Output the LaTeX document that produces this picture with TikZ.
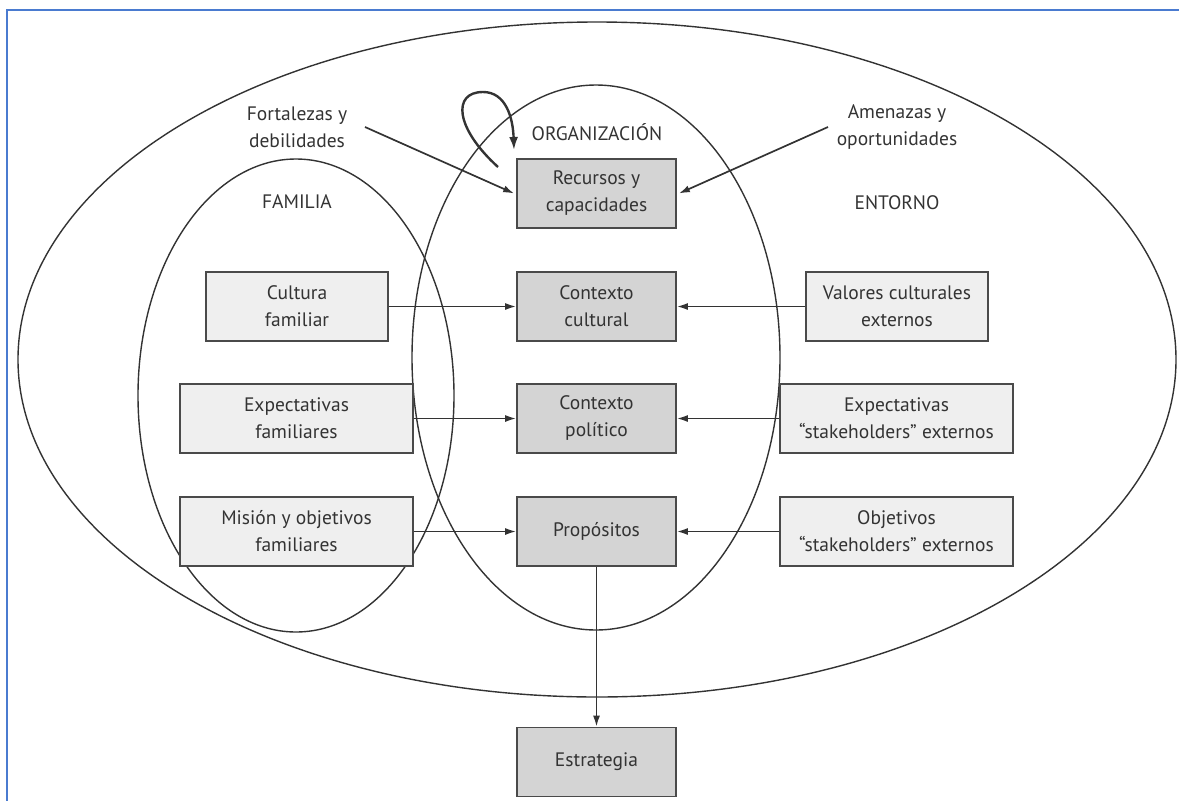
\documentclass[tikz,border=0pt]{standalone}
\usepackage{fontspec}
\setmainfont{PT Sans}
\usetikzlibrary{arrows.meta}
\definecolor{ink}{HTML}{333333}
\definecolor{edge}{HTML}{4A4A4A}
\definecolor{darkfill}{HTML}{D4D4D4}
\definecolor{lightfill}{HTML}{EFEFEF}
\definecolor{frameblue}{HTML}{4A7BD0}
\begin{document}
\begin{tikzpicture}[x=1pt,y=-1pt,
  every node/.style={font=\fontsize{19.5}{27}\selectfont, text=ink, align=center, inner sep=0pt},
  corebox/.style={draw=edge, line width=1.7pt, fill=darkfill, minimum width=159pt, minimum height=69pt},
  sidebox/.style={draw=edge, line width=1.7pt, fill=lightfill, minimum height=69pt},
  zone/.style={draw=ink, line width=1.4pt},
  flow/.style={draw=ink, line width=1.7pt, -{Latex[length=11pt,width=7pt]}},
  caption/.style={}
]
\useasboundingbox (0,0) rectangle (1179,801);
% page frame
\draw[frameblue, line width=2pt] (7,801) -- (7,10) -- (1179,10);

% nested areas
\draw[zone] (597,359.5) ellipse [x radius=579, y radius=337.5];
\draw[zone] (596,357.5) ellipse [x radius=184, y radius=272.5];
\draw[zone] (296,395.5) ellipse [x radius=158, y radius=236.5];

% area titles
\node[caption] (org) at (597,132) {ORGANIZACIÓN};
\node[caption] (fam) at (297,202) {FAMILIA};
\node[caption] (ent) at (897,203) {ENTORNO};
\node[caption] (fort) at (297,127) {Fortalezas y\\debilidades};
\node[caption] (amen) at (897,127) {Amenazas y\\oportunidades};

% central column
\node[corebox] (rec) at (596.5,193.5) {Recursos y\\capacidades};
\node[corebox] (cul) at (596.5,306.5) {Contexto\\cultural};
\node[corebox] (pol) at (596.5,418.5) {Contexto\\político};
\node[corebox] (pro) at (596.5,531.5) {Propósitos};
\node[corebox] (est) at (596.5,762) {Estrategia};

% family column
\node[sidebox, minimum width=182pt] (cf) at (297,306.5) {Cultura\\familiar};
\node[sidebox, minimum width=233pt] (ef) at (296.5,418.5) {Expectativas\\familiares};
\node[sidebox, minimum width=233pt] (mf) at (296.5,531.5) {Misión y objetivos\\familiares};

% environment column
\node[sidebox, minimum width=182pt] (vc) at (897,306.5) {Valores culturales\\externos};
\node[sidebox, minimum width=233pt] (es) at (896.5,418.5) {Expectativas\\“stakeholders” externos};
\node[sidebox, minimum width=233pt] (os) at (896.5,531.5) {Objetivos\\“stakeholders” externos};

% connectors
\draw[flow] (cf) -- (cul);
\draw[flow] (ef) -- (pol);
\draw[flow] (mf) -- (pro);
\draw[flow] (vc) -- (cul);
\draw[flow] (es) -- (pol);
\draw[flow] (os) -- (pro);
\draw[flow] (pro) -- (est);

\coordinate (fortend) at (365,127);
\coordinate (amenend) at (828,127);
\draw[flow] (fortend) -- ([xshift=-2pt]rec.west);
\draw[flow] (amenend) -- ([xshift=2pt]rec.east);

% self-reinforcing loop
\coordinate (loopstart) at (498,167);
\coordinate (looptip) at (514,150);
\draw[flow, line width=2.4pt, -{Latex[length=13pt,width=9pt]}] (loopstart) .. controls (455,128) and (452,92) .. (483,92)
  .. controls (506,92) and (513,118) .. (looptip);
\end{tikzpicture}
\end{document}
